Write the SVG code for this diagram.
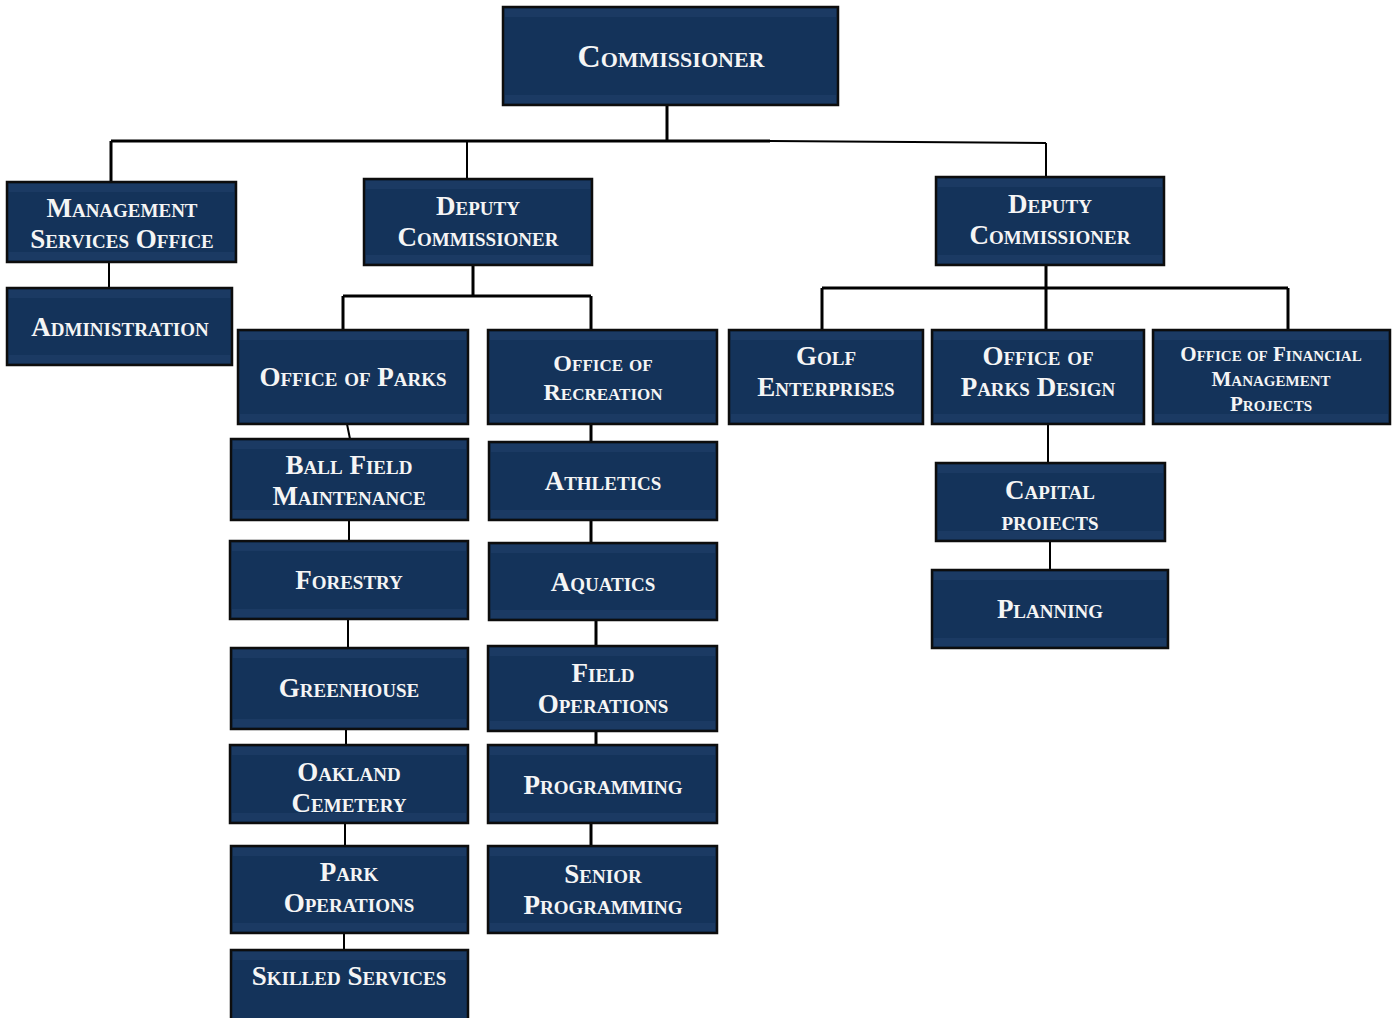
<svg xmlns="http://www.w3.org/2000/svg" width="1398" height="1018" viewBox="0 0 1398 1018">
<style>
.box{fill:#14335a;stroke:#0d0d0d;stroke-width:2.5}
.band{fill:#1b3a63}
text{font-family:"Liberation Serif","DejaVu Serif",serif;font-weight:bold;font-variant:small-caps;fill:#f5f5f5;text-anchor:middle;font-size:27px}
.big{font-size:32px}
.mid{font-size:24px}
.sm{font-size:21px}
.c{stroke:#000;fill:none;stroke-width:2}
.ct{stroke:#000;fill:none;stroke-width:3}
</style>
<rect width="1398" height="1018" fill="#fff"/>
<g id="connectors">
<path class="ct" d="M667,105 V141 M111,141 H770"/>
<path class="c" d="M770,141 L1046,143"/>
<path class="ct" d="M111,141 V182"/>
<path class="c" d="M467,141 V179 M1046,143 V177"/>
<path class="c" d="M109,262 V288"/>
<path class="ct" d="M473,265 V296 M343,296 H591 M343,296 V330 M591,296 V330"/>
<path class="ct" d="M1046,265 V330 M822,288 H1288 M822,288 V330 M1288,288 V330"/>
<path class="c" d="M347,424 L350,439 M349,520 V541 M348,619 V648 M346,729 V745 M345,823 V846 M344,933 V950"/>
<path class="ct" d="M591,424 V442 M591,520 V543 M596,620 V646 M596,731 V745 M591,823 V846"/>
<path class="c" d="M1048,424 V463 M1050,541 V570"/>
</g>
<g id="commissioner"><rect class="box" x="503" y="7" width="335" height="98"/><rect class="band" x="505" y="9" width="331" height="8"/><rect class="band" x="505" y="95" width="331" height="8"/><text class="big" x="671" y="67">Commissioner</text></g>
<g id="management-services-office"><rect class="box" x="7" y="182" width="229" height="80"/><rect class="band" x="9" y="184" width="225" height="8"/><rect class="band" x="9" y="252" width="225" height="8"/><text x="122" y="217">Management</text><text x="122" y="248">Services Office</text></g>
<g id="administration"><rect class="box" x="7" y="288" width="225" height="77"/><rect class="band" x="9" y="290" width="221" height="8"/><rect class="band" x="9" y="355" width="221" height="8"/><text x="120" y="336">Administration</text></g>
<g id="deputy-commissioner-1"><rect class="box" x="364" y="179" width="228" height="86"/><rect class="band" x="366" y="181" width="224" height="8"/><rect class="band" x="366" y="255" width="224" height="8"/><text x="478" y="215">Deputy</text><text x="478" y="246">Commissioner</text></g>
<g id="deputy-commissioner-2"><rect class="box" x="936" y="177" width="228" height="88"/><rect class="band" x="938" y="179" width="224" height="8"/><rect class="band" x="938" y="255" width="224" height="8"/><text x="1050" y="213">Deputy</text><text x="1050" y="244">Commissioner</text></g>
<g id="office-of-parks"><rect class="box" x="238" y="330" width="230" height="94"/><rect class="band" x="240" y="332" width="226" height="8"/><rect class="band" x="240" y="414" width="226" height="8"/><text x="353" y="386">Office of Parks</text></g>
<g id="office-of-recreation"><rect class="box" x="488" y="330" width="229" height="94"/><rect class="band" x="490" y="332" width="225" height="8"/><rect class="band" x="490" y="414" width="225" height="8"/><text class="mid" x="603" y="371">Office of</text><text class="mid" x="603" y="400">Recreation</text></g>
<g id="golf-enterprises"><rect class="box" x="729" y="330" width="194" height="94"/><rect class="band" x="731" y="332" width="190" height="8"/><rect class="band" x="731" y="414" width="190" height="8"/><text x="826" y="365">Golf</text><text x="826" y="396">Enterprises</text></g>
<g id="office-of-parks-design"><rect class="box" x="932" y="330" width="212" height="94"/><rect class="band" x="934" y="332" width="208" height="8"/><rect class="band" x="934" y="414" width="208" height="8"/><text x="1038" y="365">Office of</text><text x="1038" y="396">Parks Design</text></g>
<g id="office-of-financial-management-projects"><rect class="box" x="1153" y="330" width="237" height="94"/><rect class="band" x="1155" y="332" width="233" height="8"/><rect class="band" x="1155" y="414" width="233" height="8"/><text class="sm" x="1271" y="361">Office of Financial</text><text class="sm" x="1271" y="386">Management</text><text class="sm" x="1271" y="411">Projects</text></g>
<g id="ball-field-maintenance"><rect class="box" x="231" y="439" width="237" height="81"/><rect class="band" x="233" y="441" width="233" height="8"/><rect class="band" x="233" y="510" width="233" height="8"/><text x="349" y="474">Ball Field</text><text x="349" y="505">Maintenance</text></g>
<g id="athletics"><rect class="box" x="489" y="442" width="228" height="78"/><rect class="band" x="491" y="444" width="224" height="8"/><rect class="band" x="491" y="510" width="224" height="8"/><text x="603" y="490">Athletics</text></g>
<g id="forestry"><rect class="box" x="230" y="541" width="238" height="78"/><rect class="band" x="232" y="543" width="234" height="8"/><rect class="band" x="232" y="609" width="234" height="8"/><text x="349" y="589">Forestry</text></g>
<g id="aquatics"><rect class="box" x="489" y="543" width="228" height="77"/><rect class="band" x="491" y="545" width="224" height="8"/><rect class="band" x="491" y="610" width="224" height="8"/><text x="603" y="591">Aquatics</text></g>
<g id="greenhouse"><rect class="box" x="231" y="648" width="237" height="81"/><rect class="band" x="233" y="650" width="233" height="8"/><rect class="band" x="233" y="719" width="233" height="8"/><text x="349" y="697">Greenhouse</text></g>
<g id="field-operations"><rect class="box" x="488" y="646" width="229" height="85"/><rect class="band" x="490" y="648" width="225" height="8"/><rect class="band" x="490" y="721" width="225" height="8"/><text x="603" y="682">Field</text><text x="603" y="713">Operations</text></g>
<g id="oakland-cemetery"><rect class="box" x="230" y="745" width="238" height="78"/><rect class="band" x="232" y="747" width="234" height="8"/><rect class="band" x="232" y="813" width="234" height="8"/><text x="349" y="781">Oakland</text><text x="349" y="812">Cemetery</text></g>
<g id="programming"><rect class="box" x="488" y="745" width="229" height="78"/><rect class="band" x="490" y="747" width="225" height="8"/><rect class="band" x="490" y="813" width="225" height="8"/><text x="603" y="794">Programming</text></g>
<g id="park-operations"><rect class="box" x="231" y="846" width="237" height="87"/><rect class="band" x="233" y="848" width="233" height="8"/><rect class="band" x="233" y="923" width="233" height="8"/><text x="349" y="881">Park</text><text x="349" y="912">Operations</text></g>
<g id="senior-programming"><rect class="box" x="488" y="846" width="229" height="87"/><rect class="band" x="490" y="848" width="225" height="8"/><rect class="band" x="490" y="923" width="225" height="8"/><text x="603" y="883">Senior</text><text x="603" y="914">Programming</text></g>
<g id="skilled-services"><rect class="box" x="231" y="950" width="237" height="76"/><rect class="band" x="233" y="952" width="233" height="8"/><text x="349" y="985">Skilled Services</text></g>
<g id="capital-projects"><rect class="box" x="936" y="463" width="229" height="78"/><rect class="band" x="938" y="465" width="225" height="8"/><rect class="band" x="938" y="531" width="225" height="8"/><text x="1050" y="499">Capital</text><text x="1050" y="530">proiects</text></g>
<g id="planning"><rect class="box" x="932" y="570" width="236" height="78"/><rect class="band" x="934" y="572" width="232" height="8"/><rect class="band" x="934" y="638" width="232" height="8"/><text x="1050" y="618">Planning</text></g>
</svg>
